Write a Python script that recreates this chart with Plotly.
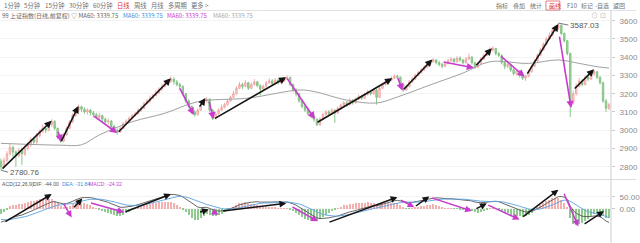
import plotly.graph_objects as go

# ---------------- data ----------------
open_first = 2830
closes = [2800,2835,2870,2905,2880,2860,2890,2870,2900,2920,
          2950,2935,2970,2995,3010,3000,3030,3048,3010,2965,
          2940,2975,3010,3045,3080,3110,3128,3115,3100,3110,
          3095,3085,3070,3080,3060,3045,3050,3020,3000,2990,
          3010,3035,3050,3065,3080,3090,3110,3120,3145,3160,
          3175,3190,3205,3225,3240,3255,3270,3280,3265,3250,
          3240,3200,3160,3130,3100,3085,3110,3140,3160,3170,
          3110,3065,3090,3110,3125,3140,3160,3180,3200,3230,
          3250,3240,3260,3230,3250,3265,3245,3225,3240,3260,
          3270,3255,3275,3260,3270,3280,3288,3250,3220,3200,
          3160,3130,3110,3090,3075,3060,3030,3060,3085,3100,
          3090,3110,3095,3120,3135,3150,3140,3165,3150,3170,
          3185,3175,3195,3210,3200,3220,3180,3230,3250,3265,
          3275,3285,3295,3290,3250,3220,3240,3265,3280,3300,
          3315,3330,3345,3360,3375,3385,3370,3360,3350,3365,
          3380,3390,3375,3395,3385,3370,3390,3400,3370,3345,
          3365,3390,3410,3425,3440,3448,3420,3410,3370,3350,
          3360,3330,3310,3325,3300,3285,3295,3320,3350,3380,
          3410,3440,3470,3500,3520,3545,3560,3575,3530,3490,
          3420,3150,3200,3240,3270,3250,3290,3280,3310,3320,
          3290,3260,3160,3120,3140]
highs = [2845,2850,2885,2925,2915,2890,2900,2905,2915,2935,
         2960,2965,2985,3005,3030,3020,3045,3060,3055,3015,
         2975,2985,3020,3055,3090,3120,3140,3135,3125,3120,
         3115,3105,3095,3095,3085,3070,3065,3055,3030,3010,
         3020,3045,3060,3075,3090,3100,3120,3135,3155,3170,
         3190,3200,3220,3235,3255,3265,3280,3295,3290,3275,
         3260,3245,3205,3170,3135,3110,3120,3150,3170,3180,
         3175,3115,3100,3120,3140,3150,3170,3190,3215,3240,
         3265,3260,3275,3265,3260,3280,3270,3250,3250,3270,
         3285,3280,3285,3280,3280,3290,3300,3295,3255,3230,
         3205,3170,3140,3120,3100,3085,3065,3070,3095,3110,
         3110,3120,3115,3130,3145,3160,3160,3175,3170,3180,
         3195,3195,3205,3220,3215,3230,3225,3240,3260,3275,
         3285,3295,3305,3305,3295,3255,3250,3275,3290,3310,
         3325,3340,3355,3370,3385,3395,3390,3380,3370,3375,
         3390,3400,3395,3405,3405,3390,3400,3420,3405,3375,
         3375,3400,3420,3440,3455,3460,3450,3430,3415,3375,
         3375,3365,3340,3335,3330,3310,3305,3330,3360,3390,
         3420,3450,3480,3510,3535,3555,3575,3587.03,3580,3535,
         3495,3425,3215,3255,3285,3280,3300,3305,3320,3330,
         3325,3295,3265,3170,3150]
lows = [2780.76,2795,2825,2860,2850,2800,2850,2810,2860,2890,
        2910,2920,2925,2960,2985,2985,2995,3020,3000,2950,
        2930,2935,2970,3005,3040,3075,3100,3100,3090,3085,
        3080,3070,3060,3060,3045,3035,3030,3010,2990,2975,
        2985,3005,3030,3045,3060,3075,3085,3100,3115,3140,
        3150,3170,3185,3200,3215,3235,3250,3260,3250,3240,
        3225,3190,3150,3120,3090,3075,3080,3105,3135,3150,
        3100,3055,3060,3085,3105,3120,3135,3155,3175,3195,
        3225,3225,3235,3220,3225,3245,3235,3190,3215,3235,
        3255,3245,3250,3250,3255,3265,3275,3240,3210,3185,
        3150,3120,3100,3080,3065,3045,3023,3025,3055,3080,
        3080,3085,3040,3090,3115,3130,3130,3135,3140,3145,
        3165,3165,3170,3190,3190,3195,3140,3175,3225,3245,
        3260,3270,3280,3280,3240,3210,3215,3235,3260,3275,
        3295,3310,3325,3340,3355,3370,3360,3350,3340,3345,
        3360,3375,3365,3370,3375,3360,3365,3385,3360,3335,
        3340,3360,3385,3405,3420,3430,3410,3400,3360,3335,
        3340,3320,3300,3300,3290,3275,3270,3290,3315,3345,
        3375,3405,3435,3465,3495,3515,3540,3550,3520,3480,
        3410,3072,3140,3190,3235,3240,3245,3270,3275,3300,
        3280,3250,3150,3100,3110]
opens = [open_first] + closes[:-1]
idx = list(range(len(closes)))

# MA60 read at sample points
ma_idx = [0, 10, 20, 27, 33, 44, 55, 66, 83, 100, 105, 116, 126, 133, 144, 155, 164, 177, 187, 194, 200, 204]
ma_val = [2928, 2922, 2918, 2920, 2974, 3046, 3093, 3156, 3176, 3220, 3212, 3165, 3149, 3182, 3248, 3313, 3375, 3366, 3385, 3366, 3348, 3340]

# MACD seeds (state before first visible bar)
ema12_seed = 2862
ema26_seed = 2918
dea_seed = -42

# zigzag legs on price: (start idx, start price, end idx, end price, kind)
price_leg_x0 = [0, 19, 20, 30.7, 39, 59.7, 66.3, 69.7, 71.3, 95.7, 105.7, 133, 134.7, 148, 159, 167.3, 176.3, 187.3, 192]
price_leg_y0 = [2781, 3000, 2932, 3083, 2983, 3238, 3121, 3165, 3060, 3291, 3039, 3293, 3216, 3375, 3348, 3412, 3302, 3521, 3220]
price_leg_x1 = [17, 20.3, 26, 39, 57, 64.7, 68.6, 71.3, 95.7, 105.3, 131.3, 134.7, 144.7, 158.7, 164.7, 175.7, 187, 191.3, 199]
price_leg_y1 = [3052, 2935, 3133, 2984, 3284, 3083, 3176, 3060, 3290, 3061, 3284, 3216, 3388, 3342, 3449, 3293, 3582, 3121, 3334]
price_leg_up = [1, 0, 1, 0, 1, 0, 1, 0, 1, 0, 1, 0, 1, 0, 1, 0, 1, 0, 1]

# zigzag legs on MACD
macd_leg_x0 = [1, 20.7, 24, 29.7, 41.3, 66.3, 70.7, 74, 97.3, 109.7, 133.7, 138.7, 144, 159, 163, 174.7, 188.7, 195.3]
macd_leg_y0 = [-58, 28, 0, 26, -15, -16, -10, -10, 11, -59, 40, 7, 48, -3, 18, -38, 70, -68]
macd_leg_x1 = [17, 23.7, 27.3, 41.3, 57, 69.7, 73, 95.7, 106.3, 133, 138.7, 143.7, 158, 163, 174, 187, 193.7, 202.3]
macd_leg_y1 = [62, -37, 43, -15, 62, -3, -25, 23, -53, 49, 6, 52, -10, 23, -46, 80, -75, -10]
macd_leg_up = [1, 0, 1, 0, 1, 1, 0, 1, 0, 1, 0, 1, 0, 1, 0, 1, 0, 1]

price_ticks = [2800, 2900, 3000, 3100, 3200, 3300, 3400, 3500, 3600]
macd_ticks = [50, 0]
macd_tick_text = ["50.00", "0.00"]

# ---------------- indicators ----------------
dif, dea, hist = [], [], []
e12, e26, d = ema12_seed, ema26_seed, dea_seed
for c in closes:
    e12 = e12 + 2 / 13 * (c - e12)
    e26 = e26 + 2 / 27 * (c - e26)
    df = e12 - e26
    d = d + 2 / 10 * (df - d)
    dif.append(df)
    dea.append(d)
    hist.append(2 * (df - d))

# ---------------- figure ----------------
W, H = 640, 243
PW = 615  # plot width in px


def px(x):
    return x / PW


def py(y):
    return 1 - y / H


BLACK = "#141414"
MAG = "#c93bcf"
UPC = "#eea0a0"
DNC = "#7fbf7f"

fig = go.Figure()
fig.add_trace(go.Candlestick(
    x=idx, open=opens, high=highs, low=lows, close=closes,
    increasing=dict(line=dict(color=UPC, width=0.9), fillcolor="#fbe2e2"),
    decreasing=dict(line=dict(color=DNC, width=0.9), fillcolor="#a6d6a6"),
    whiskerwidth=0, showlegend=False, hoverinfo="skip",
    xaxis="x", yaxis="y"))
fig.add_trace(go.Scatter(x=ma_idx, y=ma_val, mode="lines",
                         line=dict(color="#a0a0a0", width=1, shape="spline", smoothing=1.0),
                         showlegend=False, hoverinfo="skip", xaxis="x", yaxis="y"))

fig.add_trace(go.Bar(x=idx, y=hist, width=0.34,
                     marker=dict(color=["#f3b0b0" if v >= 0 else "#8fca8f" for v in hist], line=dict(width=0)),
                     showlegend=False, hoverinfo="skip", xaxis="x2", yaxis="y2"))
fig.add_trace(go.Scatter(x=idx, y=dif, mode="lines", line=dict(color="#555555", width=0.9),
                         showlegend=False, hoverinfo="skip", xaxis="x2", yaxis="y2"))
fig.add_trace(go.Scatter(x=idx, y=dea, mode="lines", line=dict(color="#5aa3e3", width=0.9),
                         showlegend=False, hoverinfo="skip", xaxis="x2", yaxis="y2"))

ann = []
for x0, y0, x1, y1, up in zip(price_leg_x0, price_leg_y0, price_leg_x1, price_leg_y1, price_leg_up):
    ann.append(dict(x=x1, y=y1, ax=x0, ay=y0, xref="x", yref="y", axref="x", ayref="y",
                    text="", showarrow=True, arrowhead=2, arrowsize=0.9, arrowwidth=1.6,
                    arrowcolor=BLACK if up else MAG))
for x0, y0, x1, y1, up in zip(macd_leg_x0, macd_leg_y0, macd_leg_x1, macd_leg_y1, macd_leg_up):
    ann.append(dict(x=x1, y=y1, ax=x0, ay=y0, xref="x2", yref="y2", axref="x2", ayref="y2",
                    text="", showarrow=True, arrowhead=2, arrowsize=0.9, arrowwidth=1.5,
                    arrowcolor=BLACK if up else MAG))

# extreme labels
ann.append(dict(x=187, y=3587.03, xref="x", yref="y", text="3587.03", showarrow=True,
                arrowhead=0, arrowwidth=0.8, arrowcolor="#555", ax=10, ay=2, xanchor="left",
                font=dict(size=8, color="#555", family="Liberation Sans")))
ann.append(dict(x=0, y=2780.76, xref="x", yref="y", text="2780.76", showarrow=True,
                arrowhead=0, arrowwidth=0.8, arrowcolor="#555", ax=7, ay=2, xanchor="left",
                font=dict(size=8, color="#555", family="Liberation Sans")))

CJK = "Noto Sans CJK SC"


def txt(s, x, y, color="#555", size=6.5, anchor="left", fam=CJK):
    ann.append(dict(x=px(x), y=py(y), xref="paper", yref="paper", text=s, showarrow=False,
                    xanchor=anchor, yanchor="middle", font=dict(size=size, color=color, family=fam)))


# toolbar row 1
left_items = [("1分钟", 2), ("5分钟", 22.6), ("15分钟", 43.2), ("30分钟", 67.4), ("60分钟", 91.5),
              ("日线", 115.7), ("周线", 132.7), ("月线", 149.7), ("多周期", 166.7), ("更多 >", 190.2)]
for s, x in left_items:
    txt(s, x, 5.5, color="#e03030" if s == "日线" else "#707070", size=6.3)
right_items = [("指标", 497), ("叠加", 514), ("统计", 531), ("画线", 551), ("F10", 569),
               ("标记", 583), ("-自选", 597), ("返回", 615)]
for s, x in right_items:
    txt(s, x, 5.5, color="#e03030" if s == "画线" else "#707070", size=6)

# header row 2
txt("99 上证指数(日线,前复权) ▽ MA60: 3339.75", 0, 15.5, color="#666", size=6)
txt("MA60: 3339.75", 122, 15.5, color="#3f8fe0", size=6)
txt("MA60: 3339.75", 166, 15.5, color="#c93bcf", size=6)
txt("MA60: 3339.75", 212, 15.5, color="#aaaaaa", size=6)
txt("⊙ ⊡", 593, 15.5, color="#bbb", size=7)

# MACD header
txt("ACD(12,26,9)", 0, 184, color="#555", size=5.2, fam="Liberation Sans")
txt("DIF: -44.00", 31, 184, color="#555", size=5.2, fam="Liberation Sans")
txt("DEA: -31.84", 60, 184, color="#3f8fe0", size=5.2, fam="Liberation Sans")
txt("MACD: -24.32", 88, 184, color="#c93bcf", size=5.2, fam="Liberation Sans")

shapes = [
    dict(type="line", xref="paper", yref="paper", x0=0, x1=W / PW, y0=py(10.5), y1=py(10.5),
         line=dict(color="#e2e2e2", width=1)),
    dict(type="line", xref="paper", yref="paper", x0=0, x1=W / PW, y0=py(179.5), y1=py(179.5),
         line=dict(color="#dcdcdc", width=1)),
    dict(type="line", xref="paper", yref="paper", x0=1, x1=1, y0=0, y1=py(10.5),
         line=dict(color="#cfcfcf", width=1)),
    dict(type="rect", xref="paper", yref="paper", x0=px(549.5), x1=px(563.5), y0=py(10), y1=py(1),
         line=dict(color="#e06060", width=0.8), fillcolor="rgba(0,0,0,0)"),
]

xr = [-1 / 3, 204 + 2 / 3]
fig.update_layout(
    width=W, height=H, margin=dict(l=0, r=W - PW, t=0, b=0),
    paper_bgcolor="white", plot_bgcolor="white",
    showlegend=False, bargap=0,
    annotations=ann, shapes=shapes,
    xaxis=dict(domain=[0, 1], range=xr, showticklabels=False, showgrid=False, zeroline=False,
               rangeslider=dict(visible=False), anchor="y"),
    xaxis2=dict(domain=[0, 1], range=xr, showticklabels=False, showgrid=False, zeroline=False,
                anchor="y2", matches="x"),
    yaxis=dict(domain=[py(178), py(14)], range=[2738, 3636.7], side="right",
               tickvals=price_ticks, ticks="outside", ticklen=3, tickcolor="#cccccc",
               tickfont=dict(size=8, color="#8a8a8a", family="Liberation Sans"),
               showgrid=True, gridcolor="#f3f3f3", gridwidth=1, zeroline=False,
               showline=False, ticklabelstandoff=3),
    yaxis2=dict(domain=[0, py(187)], range=[-145, 92], side="right",
                tickvals=macd_ticks, ticktext=macd_tick_text, ticks="outside", ticklen=3,
                tickcolor="#cccccc", tickfont=dict(size=8, color="#8a8a8a", family="Liberation Sans"),
                showgrid=True, gridcolor="#f3f3f3", zeroline=False, showline=False,
                ticklabelstandoff=3),
)

fig.write_html("out.html")
